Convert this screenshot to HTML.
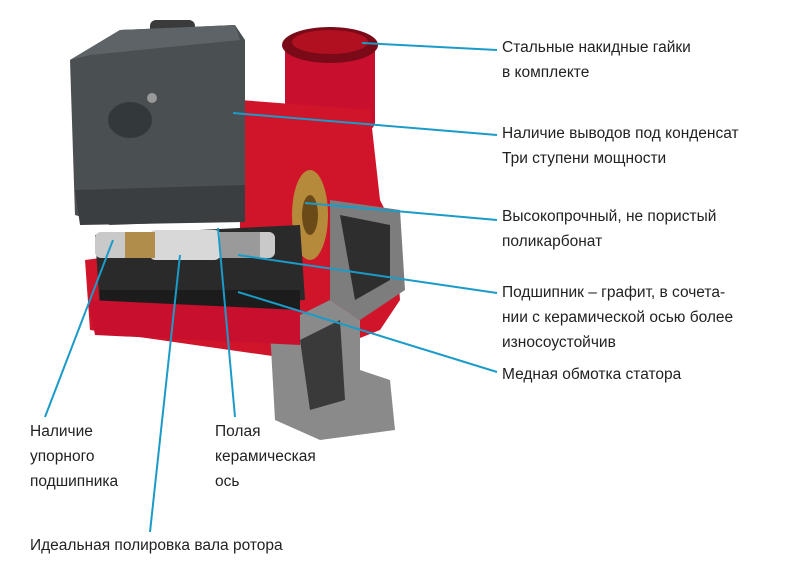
<!DOCTYPE html>
<html><head><meta charset="utf-8"><style>
body{margin:0;background:#fff;width:785px;height:559px;overflow:hidden;font-family:"Liberation Sans","DejaVu Sans",sans-serif}
</style></head><body>
<svg width="785" height="559" viewBox="0 0 785 559" xmlns="http://www.w3.org/2000/svg">
<!-- pump body approximations -->
<!-- top outlet -->
<rect x="285" y="40" width="90" height="90" rx="8" fill="#c8102e"/>
<ellipse cx="330" cy="45" rx="48" ry="18" fill="#7a0a18"/>
<ellipse cx="330" cy="42" rx="38" ry="12" fill="#b01020"/>
<!-- red main housing -->
<path d="M240 100 L370 110 L380 200 L395 230 L400 300 L380 330 L330 350 L300 360 L90 330 L85 260 L240 240 Z" fill="#d0142a"/>
<!-- lower casing grey -->
<path d="M270 330 L330 300 L360 320 L360 370 L390 380 L395 430 L320 440 L275 420 Z" fill="#8a8a8a"/>
<path d="M300 340 L340 320 L345 400 L310 410 Z" fill="#3a3a3a"/>
<path d="M330 200 L400 210 L405 290 L360 320 L330 300 Z" fill="#7d7d7d"/>
<path d="M340 215 L390 225 L390 280 L355 300 Z" fill="#2e2e2e"/>
<!-- impeller -->
<ellipse cx="310" cy="215" rx="18" ry="45" fill="#b58a3a"/>
<ellipse cx="310" cy="215" rx="8" ry="20" fill="#6b4a18"/>
<!-- motor body dark -->
<path d="M95 235 L300 225 L305 300 L100 310 Z" fill="#2a2a2a"/>
<rect x="100" y="290" width="200" height="40" fill="#1c1c1c"/>
<path d="M88 300 L300 310 L300 345 L95 335 Z" fill="#c8102e"/>
<!-- rotor shaft -->
<rect x="95" y="232" width="180" height="26" rx="6" fill="#c9c9c9"/>
<rect x="150" y="230" width="70" height="30" rx="5" fill="#d8d8d8"/>
<rect x="125" y="232" width="30" height="26" fill="#b08d4a"/>
<rect x="220" y="232" width="40" height="26" fill="#9a9a9a"/>
<!-- control box -->
<rect x="150" y="20" width="45" height="30" rx="6" fill="#3a3a3a"/>
<path d="M70 60 L120 30 L235 25 L245 40 L245 220 L110 225 L75 215 Z" fill="#4a4f52"/>
<path d="M70 60 L120 30 L235 25 L240 40 L90 55 Z" fill="#5d6367"/>
<path d="M75 190 L245 185 L245 222 L80 225 Z" fill="#3a3e40"/>
<ellipse cx="130" cy="120" rx="22" ry="18" fill="#33383a"/>
<circle cx="152" cy="98" r="5" fill="#999"/>
<!-- connectors -->
<g stroke="#1a9bc8" stroke-width="2" fill="none">
<line x1="362" y1="43" x2="497" y2="50"/>
<line x1="233" y1="113" x2="497" y2="135"/>
<line x1="305" y1="203" x2="497" y2="220"/>
<line x1="238" y1="255" x2="497" y2="293"/>
<line x1="238" y1="292" x2="497" y2="372"/>
<line x1="113" y1="240" x2="45" y2="417"/>
<line x1="180" y1="255" x2="150" y2="532"/>
<line x1="218" y1="228" x2="235" y2="417"/>
</g>
<g fill="#222" font-size="15.5">
<text x="502" y="52">Стальные накидные гайки</text>
<text x="502" y="77">в комплекте</text>
<text x="502" y="138">Наличие выводов под конденсат</text>
<text x="502" y="163">Три ступени мощности</text>
<text x="502" y="221">Высокопрочный, не пористый</text>
<text x="502" y="246">поликарбонат</text>
<text x="502" y="297">Подшипник – графит, в сочета-</text>
<text x="502" y="322">нии с керамической осью более</text>
<text x="502" y="347">износоустойчив</text>
<text x="502" y="379">Медная обмотка статора</text>
<text x="30" y="436">Наличие</text>
<text x="30" y="461">упорного</text>
<text x="30" y="486">подшипника</text>
<text x="215" y="436">Полая</text>
<text x="215" y="461">керамическая</text>
<text x="215" y="486">ось</text>
<text x="30" y="550">Идеальная полировка вала ротора</text>
</g>
</svg>
</body></html>
